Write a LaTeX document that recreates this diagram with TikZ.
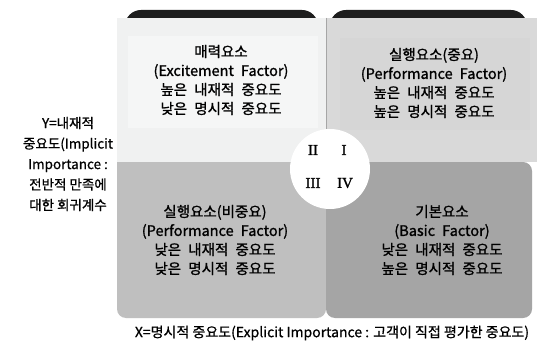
\documentclass[tikz,border=0pt]{standalone}
\usepackage{fontspec}
\setmainfont{Noto Sans CJK KR}
\newfontfamily\kr[WordSpace=2.2,FakeBold=1.2]{Noto Sans CJK KR}
\newfontfamily\krn[FakeBold=0.8]{Noto Sans CJK KR}
\newfontfamily\rom[FakeBold=1.2]{Liberation Serif}
\definecolor{darktab}{HTML}{1E1E1E}
\definecolor{pTL}{HTML}{F0F1F1}
\definecolor{pTLin}{HTML}{F5F6F6}
\definecolor{pTR}{HTML}{D9D9D9}
\definecolor{pTRin}{HTML}{D6D6D6}
\definecolor{pBL}{HTML}{BFBFBF}
\definecolor{pBR}{HTML}{A5A5A5}
\tikzset{
  tab/.style={fill=darktab, rounded corners=16pt},
  paneltxt/.style={align=center, inner sep=0pt, font=\kr\fontsize{14.5}{19}\selectfont},
  axistxt/.style={align=center, inner sep=0pt, font=\krn\fontsize{13.5}{20.5}\selectfont},
  numtxt/.style={inner sep=0pt, font=\rom\fontsize{15}{15}\selectfont}
}
\begin{document}
\begin{tikzpicture}[x=1pt,y=-1pt]
\useasboundingbox (0,0) rectangle (537,347);
\fill[white] (0,0) rectangle (537,347);
% bottom panels
\fill[tab] (130,156) rectangle (318,200);
\fill[tab] (333,156) rectangle (526,200);
\fill[pBL, rounded corners=9pt] (117,162) -- (117,318) -- (326,318) -- (326,162) [sharp corners] -- cycle;
\fill[pBR, rounded corners=9pt] (326,162) -- (326,318) -- (532,318) -- (532,162) [sharp corners] -- cycle;
% top panels
\fill[tab] (125,10) rectangle (318,60);
\fill[tab] (330,10) rectangle (527,60);
\fill[pTL] (117,18) rectangle (326,162);
\fill[pTLin] (128,36) rectangle (318,128);
\fill[pTR] (327,18) rectangle (537,162);
\fill[pTRin] (340,38) rectangle (530,130);
\draw[gray!70, line width=0.8pt] (326.5,18) -- (326.5,162);
% panel texts
\node[paneltxt] (tl) at (221,80) {매력요소\\(Excitement Factor)\\높은 내재적 중요도\\낮은 명시적 중요도};
\node[paneltxt] (tr) at (434,83) {실행요소(중요)\\(Performance Factor)\\높은 내재적 중요도\\높은 명시적 중요도};
\node[paneltxt] (bl) at (215,240) {실행요소(비중요)\\(Performance Factor)\\낮은 내재적 중요도\\낮은 명시적 중요도};
\node[paneltxt] (br) at (442,240) {기본요소\\(Basic Factor)\\낮은 내재적 중요도\\높은 명시적 중요도};
% center circle
\node[circle, fill=white, minimum size=80pt, inner sep=0pt] (c) at (330,169) {};
\node[numtxt] (n2) at (313,150) {II};
\node[numtxt] (n1) at (344,150) {I};
\node[numtxt] (n3) at (313,183) {III};
\node[numtxt] (n4) at (345,183) {IV};
% axis labels
\node[axistxt] (ylab) at (68,164) {Y=내재적\\중요도(Implicit\\Importance :\\전반적 만족에\\대한 회귀계수};
\node[axistxt, font=\krn\fontsize{14}{15}\selectfont] (xlab) at (332,333) {X=명시적 중요도(Explicit Importance : 고객이 직접 평가한 중요도)};
\end{tikzpicture}
\end{document}
